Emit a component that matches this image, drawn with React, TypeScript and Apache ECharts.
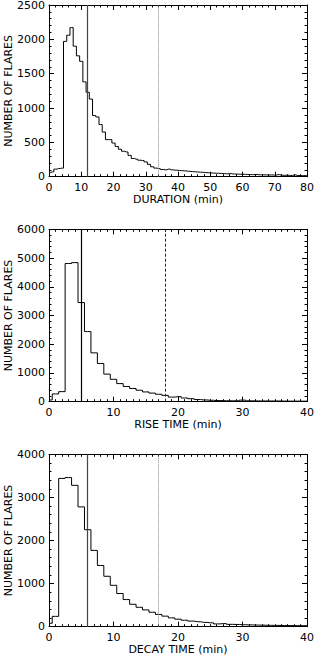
import React, { useEffect, useRef } from 'react';
import * as echarts from 'echarts';

// Histogram counts per 1-minute bin (index = minutes)
const durationCounts = [
  60, 70, 110, 120, 125, 1970, 2060, 2170, 1900, 1760,
  1680, 1380, 1230, 1130, 890, 870, 760, 650, 540, 540,
  490, 440, 400, 370, 360, 310, 265, 255, 240, 235,
  215, 180, 145, 125, 118, 105, 100, 110, 100, 95,
  92, 88, 85, 80, 75, 72, 68, 65, 62, 58,
  55, 52, 50, 48, 45, 42, 45, 40, 38, 36,
  35, 33, 32, 30, 32, 28, 28, 26, 25, 26,
  22, 30, 22, 20, 20, 18, 25, 18, 15, 16,
  14,
];
const riseCounts = [
  60, 270, 350, 4810, 4840, 3450, 2440, 1700, 1330, 960,
  780, 630, 530, 460, 400, 340, 300, 260, 220, 160,
  175, 130, 105, 75, 60, 50, 40, 35, 30, 30,
  55, 30, 28, 25, 25, 25, 22, 20, 20, 18,
  18,
];
const decayCounts = [
  80, 240, 3440, 3460, 3280, 2780, 2250, 1770, 1420, 1170,
  960, 770, 630, 520, 450, 390, 335, 285, 245, 205,
  175, 150, 130, 115, 100, 90, 65, 72, 55, 52,
  45, 42, 38, 35, 32, 30, 28, 26, 25, 24,
  22,
];

const xTitles = ['DURATION (min)', 'RISE TIME (min)', 'DECAY TIME (min)'];
const yTitle = 'NUMBER OF FLARES';
const xMaxes = [80, 40, 40];
const yMaxes = [2500, 6000, 4000];
const yIntervals = [500, 1000, 1000];
const medianLines = [12, 5, 6];
const upperLines = [34, 18, 17];

const FONT = '"DejaVu Sans", Verdana, sans-serif';
const GRID_TOPS = [5, 229.3, 454.3];
const GRID_HS = [171.7, 172.4, 172.4];

export default function App() {
  const ref = useRef<HTMLDivElement>(null);
  useEffect(() => {
    if (!ref.current) return;
    const chart = echarts.init(ref.current, null, { renderer: 'svg' });
    const allCounts = [durationCounts, riseCounts, decayCounts];
    const xMinorSplits = [5, 10, 10];
    const yMinorSplits = [5, 5, 5];
    const grids: any[] = [];
    const xAxes: any[] = [];
    const yAxes: any[] = [];
    const series: any[] = [];
    const graphics: any[] = [];
    const plain = (v: number) => String(v);
    const axisLine = { show: true, onZero: false, lineStyle: { color: '#000', width: 1 } };
    for (let i = 0; i < 3; i++) {
      grids.push({
        left: 49, top: GRID_TOPS[i], width: 258, height: GRID_HS[i],
        containLabel: false, outerBoundsMode: 'none',
      });
      const xBase = {
        type: 'value', gridIndex: i, min: 0, max: xMaxes[i], interval: 10,
        axisLine, splitLine: { show: false },
        axisTick: { show: true, inside: true, length: 5, lineStyle: { color: '#000' } },
        minorTick: { show: true, splitNumber: xMinorSplits[i], length: 2.5, lineStyle: { color: '#000' } },
      };
      xAxes.push({
        ...xBase, position: 'bottom',
        axisLabel: { fontFamily: FONT, fontSize: 11, color: '#000', margin: 5, formatter: plain },
        name: xTitles[i], nameLocation: 'middle', nameGap: 16,
        nameTextStyle: { fontFamily: FONT, fontSize: 11, color: '#000' },
      });
      xAxes.push({ ...xBase, position: 'top', axisLabel: { show: false } });
      const yBase = {
        type: 'value', gridIndex: i, min: 0, max: yMaxes[i], interval: yIntervals[i],
        axisLine, splitLine: { show: false },
        axisTick: { show: true, inside: true, length: 5, lineStyle: { color: '#000' } },
        minorTick: { show: true, splitNumber: yMinorSplits[i], length: 2.5, lineStyle: { color: '#000' } },
      };
      yAxes.push({
        ...yBase, position: 'left',
        axisLabel: { fontFamily: FONT, fontSize: 11, lineHeight: 10, color: '#000', margin: 4, formatter: plain },
      });
      yAxes.push({ ...yBase, position: 'right', axisLabel: { show: false } });
      graphics.push({
        type: 'text', x: 8.5, y: GRID_TOPS[i] + GRID_HS[i] / 2, rotation: Math.PI / 2,
        silent: true,
        style: {
          text: yTitle, fill: '#000', font: `11px ${FONT}`,
          textAlign: 'center', textVerticalAlign: 'middle',
        },
      });
      const upperStyle = i === 1
        ? { type: [3, 2], color: '#222', width: 1 }
        : { type: 'dotted', color: '#888', width: 1 };
      series.push({
        type: 'line', xAxisIndex: 2 * i, yAxisIndex: 2 * i, step: 'middle',
        symbol: 'none', silent: true,
        lineStyle: { color: '#000', width: 1 },
        data: allCounts[i].map((v, k) => [k, v]),
        markLine: {
          symbol: ['none', 'none'], silent: true, label: { show: false },
          data: [
            { xAxis: medianLines[i], lineStyle: { type: 'solid', color: i === 1 ? '#000' : '#444', width: 1.2 } },
            { xAxis: upperLines[i], lineStyle: upperStyle },
          ],
        },
      });
    }
    chart.setOption({
      animation: false,
      backgroundColor: '#fff',
      grid: grids,
      xAxis: xAxes,
      yAxis: yAxes,
      series,
      graphic: graphics,
    });
    return () => chart.dispose();
  }, []);
  return (
    <div
      ref={ref}
      style={{ position: 'absolute', left: 0, top: 0, width: 314, height: 661, background: '#fff' }}
    />
  );
}
